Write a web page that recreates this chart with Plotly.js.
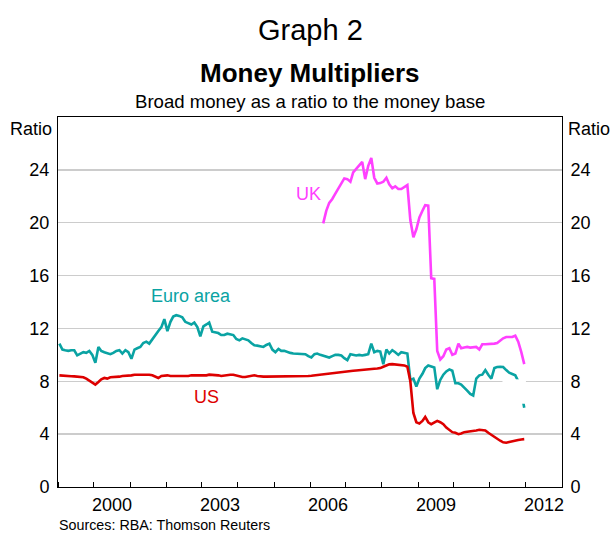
<!DOCTYPE html>
<html>
<head>
<meta charset="utf-8">
<script src="https://cdn.plot.ly/plotly-3.0.1.min.js"></script>
<style>html,body{margin:0;padding:0;background:#fff;}#chart{width:612px;height:534px;}</style>
</head>
<body>
<div id="chart"></div>
<script>
// Monthly series
const usStart = "1999-01";
const usValues = [
 8.45,8.42,8.40,8.40,8.38,8.37,8.35,8.33,8.30,8.20,8.05,7.85,
 7.75,7.95,8.15,8.25,8.20,8.30,8.30,8.35,8.35,8.40,8.40,8.45,
 8.45,8.50,8.50,8.55,8.55,8.50,8.50,8.45,8.35,8.25,8.40,8.45,
 8.45,8.40,8.40,8.35,8.35,8.40,8.40,8.40,8.45,8.45,8.45,8.40,
 8.45,8.45,8.50,8.50,8.45,8.45,8.40,8.45,8.50,8.50,8.50,8.45,
 8.35,8.32,8.32,8.35,8.38,8.45,8.40,8.35,8.35,8.35,8.35,8.35,
 8.35,8.35,8.35,8.35,8.37,8.37,8.37,8.37,8.37,8.37,8.37,8.40,
 8.42,8.45,8.50,8.52,8.55,8.58,8.60,8.62,8.65,8.68,8.70,8.72,
 8.75,8.78,8.80,8.82,8.85,8.88,8.90,8.92,8.93,8.95,8.97,9.00,
 9.10,9.20,9.28,9.30,9.28,9.25,9.22,9.20,9.10,8.00,5.60,4.90,
 4.80,5.00,5.30,4.90,4.75,4.90,5.00,4.90,4.75,4.50,4.30,4.15,
 4.10,4.00,4.05,4.15,4.18,4.20,4.22,4.28,4.33,4.32,4.28,4.10,
 3.95,3.75,3.60,3.50,3.38,3.35,3.40,3.47,3.50,3.55,3.60,3.62
];
const euroStart = "1999-01";
const euroValues = [
 10.85,10.40,10.35,10.30,10.35,10.35,9.96,10.10,10.20,10.15,10.30,10.00,
 9.40,10.60,10.30,10.20,10.10,10.05,10.15,10.30,10.35,10.10,10.35,10.20,
 9.70,10.40,10.50,10.60,10.90,11.00,10.85,11.20,11.50,11.80,12.10,12.70,
 11.80,12.50,12.90,13.00,12.95,12.85,12.50,12.40,12.30,12.45,12.10,11.40,
 12.16,12.30,12.45,11.75,11.70,11.65,11.50,11.50,11.60,11.55,11.50,11.20,
 11.10,11.25,11.20,11.10,10.90,10.72,10.70,10.65,10.60,10.75,10.85,10.40,
 10.20,10.45,10.30,10.30,10.20,10.15,10.10,10.10,10.10,10.10,10.05,9.90,
 9.80,10.05,10.10,10.00,9.95,9.85,9.80,9.90,10.00,10.00,9.95,9.75,
 9.60,10.05,10.00,9.95,10.00,9.95,10.00,10.05,10.85,10.20,10.30,10.25,
 9.30,10.40,10.10,10.35,10.20,10.00,10.20,10.15,10.10,8.10,8.20,7.60,
 8.20,8.57,9.00,9.20,9.10,9.05,7.40,8.10,8.50,8.75,8.90,8.80,
 7.85,7.85,7.75,7.55,7.30,7.05,6.93,8.20,8.45,8.50,8.85,8.50,
 8.20,9.00,9.08,9.10,9.08,8.85,8.65,8.55,8.45,8.00,7.20,6.00
];
const ukStart = "2006-05";
const ukValues = [
 19.95,20.90,21.50,21.80,22.20,22.60,22.90,23.35,
 23.30,23.10,23.80,24.10,24.30,24.60,23.30,24.30,24.90,23.40,22.97,23.00,
 23.10,23.40,22.90,22.60,22.75,22.55,22.55,22.70,22.85,20.20,18.90,19.50,
 20.40,20.90,21.33,21.30,15.80,15.75,10.30,9.65,9.90,10.40,10.50,10.00,
 10.10,10.85,10.50,10.55,10.60,10.55,10.60,10.60,10.40,10.80,10.80,10.80,
 10.85,10.85,10.90,11.10,11.25,11.35,11.35,11.35,11.45,11.00,10.20,9.30
];
const yTickVals = [0,4,8,12,16,20,24];
// Only every third year is labelled; the other yearly ticks are unlabelled
const xHiddenYearLabels = ["1999","2001","2002","2004","2005","2007","2008","2010","2011","2013"];

function monthDates(start, n){
  let y = +start.slice(0,4), m = +start.slice(5,7);
  const out = [];
  for(let i=0;i<n;i++){
    out.push(y + "-" + String(m).padStart(2,"0") + "-15");
    m++; if(m>12){m=1;y++;}
  }
  return out;
}

const FONT = "Liberation Sans, Arial, Helvetica, sans-serif";
const cUK = "#ff40ff", cEuro = "#0aa3a3", cUS = "#dd0000";

const aliases = {};
xHiddenYearLabels.forEach(y => { aliases[y] = " "; });

const traces = [
  {x: monthDates(usStart, usValues.length), y: usValues, type:"scatter", mode:"lines",
   line:{color:cUS, width:2.6}, hoverinfo:"skip", yaxis:"y2"},
  {x: monthDates(euroStart, euroValues.length), y: euroValues, type:"scatter", mode:"lines",
   line:{color:cEuro, width:2.6}, hoverinfo:"skip"},
  {x: monthDates(ukStart, ukValues.length), y: ukValues, type:"scatter", mode:"lines",
   line:{color:cUK, width:2.6}, hoverinfo:"skip"}
];

const layout = {
  width:612, height:534,
  margin:{l:58, r:50, t:117, b:47},
  paper_bgcolor:"#fff", plot_bgcolor:"#fff",
  showlegend:false,
  font:{family:FONT, color:"#000", size:18},
  xaxis:{
    type:"date", range:["1999-01-01","2013-01-01"],
    tickmode:"linear", tick0:"1999-01-01", dtick:"M12",
    tickformat:"%Y", ticklabelmode:"period", labelalias: aliases,
    ticks:"inside", ticklen:5, tickcolor:"#000", tickwidth:1,
    ticklabelstandoff:1,
    showgrid:false, zeroline:false,
    showline:true, linecolor:"#000", linewidth:1, mirror:true,
    tickfont:{size:18, family:FONT}
  },
  yaxis:{
    range:[0,28], tickmode:"array", tickvals:yTickVals,
    ticks:"outside", ticklen:4, tickcolor:"rgba(0,0,0,0)",
    showgrid:true, gridcolor:"#cccccc", gridwidth:1.5,
    zeroline:false, showline:true, linecolor:"#000", linewidth:1, mirror:true,
    tickfont:{size:18, family:FONT}
  },
  yaxis2:{
    range:[0,28], overlaying:"y", side:"right", anchor:"x", tickmode:"array", tickvals:yTickVals,
    ticks:"outside", ticklen:4, tickcolor:"rgba(0,0,0,0)",
    showgrid:false, zeroline:false, showline:false,
    tickfont:{size:18, family:FONT}
  },
  shapes:[
    {type:"rect", xref:"x", yref:"y", x0:"2011-05-08", x1:"2012-01-01", y0:6.3, y1:8.15,
     fillcolor:"#ffffff", line:{width:0}, layer:"above"}
  ],
  annotations:[
    {text:"Graph 2", xref:"paper", yref:"paper", x:0.5, y:1.235, xanchor:"center", yanchor:"middle",
     showarrow:false, font:{size:29, family:FONT}},
    {text:"<b>Money Multipliers</b>", xref:"paper", yref:"paper", x:0.5, y:1.119, xanchor:"center", yanchor:"middle",
     showarrow:false, font:{size:26, family:FONT}},
    {text:"Broad money as a ratio to the money base", xref:"paper", yref:"paper", x:0.5, y:1.043,
     xanchor:"center", yanchor:"middle", showarrow:false, font:{size:18.6, family:FONT}},
    {text:"Ratio", xref:"paper", yref:"paper", x:0, y:1, xanchor:"right", yanchor:"top", xshift:-4,
     showarrow:false, font:{size:18, family:FONT}},
    {text:"Ratio", xref:"paper", yref:"paper", x:1, y:1, xanchor:"left", yanchor:"top", xshift:4,
     showarrow:false, font:{size:18, family:FONT}},
    {text:"Sources: RBA: Thomson Reuters", xref:"paper", yref:"paper", x:-0.002, y:-0.103,
     xanchor:"left", yanchor:"middle", showarrow:false, font:{size:14.3, family:FONT}},
    {text:"UK", xref:"x", yref:"y", x:"2005-12-12", y:22.16, showarrow:false,
     font:{size:18, family:FONT, color:cUK}},
    {text:"Euro area", xref:"x", yref:"y", x:"2002-09-10", y:14.43, showarrow:false,
     font:{size:18, family:FONT, color:cEuro}},
    {text:"US", xref:"x", yref:"y", x:"2003-02-20", y:6.78, showarrow:false,
     font:{size:18, family:FONT, color:cUS}}
  ]
};

Plotly.newPlot("chart", traces, layout, {staticPlot:true, displayModeBar:false});
</script>
</body>
</html>
